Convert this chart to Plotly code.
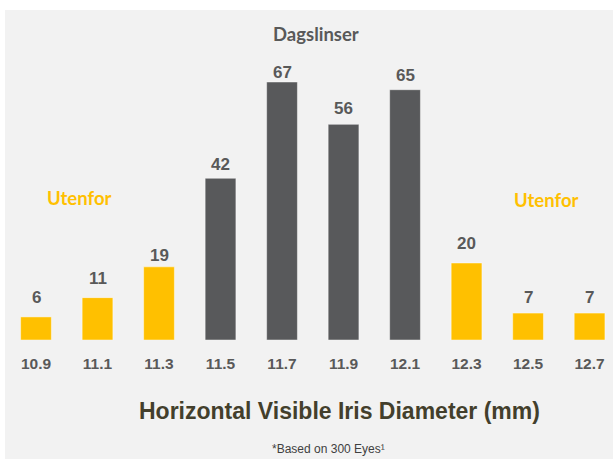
import plotly.graph_objects as go

diameters = [10.9, 11.1, 11.3, 11.5, 11.7, 11.9, 12.1, 12.3, 12.5, 12.7]
tick_labels = ["10.9", "11.1", "11.3", "11.5", "11.7", "11.9", "12.1", "12.3", "12.5", "12.7"]
eyes = [6, 11, 19, 42, 67, 56, 65, 20, 7, 7]
in_range = [False, False, False, True, True, True, True, False, False, False]

# extra pixel lift of each value label (labels in the original are hand placed)
label_lift = [7, 7, -1, 1, -3, 3, 2, 7, 3, 3]

YELLOW = "#FFC000"
GRAY = "#58595B"
PANEL = "#F2F2F2"
colors = [GRAY if r else YELLOW for r in in_range]

fig = go.Figure(go.Bar(
    x=diameters, y=eyes, width=0.1,
    marker=dict(color=colors, line=dict(color="rgba(255,255,255,0.45)", width=1)),
    hoverinfo="x+y",
))

def py(p):
    return (340 - p) / 330

annotations = [
    dict(text=f"<b>{v}</b>", x=d, y=v, xref="x", yref="y", yanchor="bottom", yshift=1 + s,
         font=dict(family="Liberation Sans", size=17, color="#595959"))
    for d, v, s in zip(diameters, eyes, label_lift)
]
annotations += [
    dict(text="<b>Dagslinser</b>", x=11.81, y=py(34), xref="x", yref="paper",
         font=dict(family="Lato", size=18.5, color="#595959")),
    dict(text="<b>Utenfor</b>", x=11.043, y=py(198), xref="x", yref="paper",
         font=dict(family="Lato", size=18.5, color=YELLOW)),
    dict(text="<b>Utenfor</b>", x=12.559, y=py(200), xref="x", yref="paper",
         font=dict(family="Lato", size=18.5, color=YELLOW)),
    dict(text="<b>Horizontal Visible Iris Diameter (mm)</b>", x=(339 - 5) / 608, y=py(411),
         xref="paper", yref="paper",
         font=dict(family="Liberation Sans", size=23, color="#433F2C")),
    dict(text="*Based on 300 Eyes¹", x=(328 - 5) / 608, y=py(449),
         xref="paper", yref="paper",
         font=dict(family="Liberation Sans", size=12, color="#404040")),
]
for a in annotations:
    a["showarrow"] = False
    a["xanchor"] = "center"
    a.setdefault("yanchor", "middle")

fig.update_layout(
    width=613, height=459,
    margin=dict(l=5, r=0, t=10, b=119),
    paper_bgcolor=PANEL, plot_bgcolor=PANEL,
    showlegend=False,
    xaxis=dict(range=[10.7992, 12.7762], tickvals=diameters,
               ticktext=[f"<b>{t}</b>" for t in tick_labels],
               tickfont=dict(family="Liberation Sans", size=15.5, color="#595959"),
               showgrid=False, zeroline=False, showline=False, ticks="",
               ticklabelstandoff=12, fixedrange=True),
    yaxis=dict(range=[0, 85.7], visible=False, fixedrange=True),
    shapes=[
        dict(type="rect", xref="paper", yref="paper", x0=-0.05, x1=0, y0=-1, y1=2,
             fillcolor="white", line=dict(width=0), layer="below"),
        dict(type="rect", xref="paper", yref="paper", x0=-0.05, x1=1.05, y0=1, y1=1.1,
             fillcolor="white", line=dict(width=0), layer="below"),
    ],
    annotations=annotations,
)

fig.write_html("out.html", config={"displayModeBar": False},
               post_script="document.body.style.margin='0';")
